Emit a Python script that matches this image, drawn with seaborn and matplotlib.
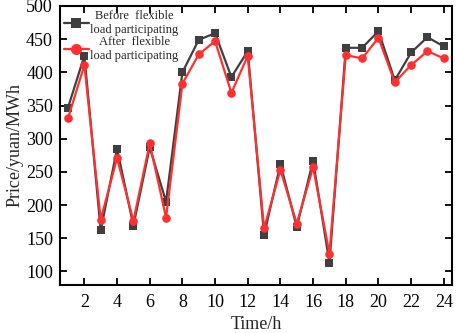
import matplotlib
matplotlib.use("Agg")
import matplotlib.pyplot as plt
import pandas as pd
import seaborn as sns

HOURS = list(range(1, 25))
PRICE_BEFORE = [347, 425, 162, 285, 169, 287, 205, 400, 449, 459, 393, 432,
                155, 262, 167, 267, 113, 437, 437, 462, 388, 430, 453, 439]
PRICE_AFTER = [331, 411, 178, 271, 176, 293, 181, 383, 427, 447, 369, 425,
               165, 253, 172, 257, 127, 426, 421, 452, 385, 411, 432, 421]
LABEL_BEFORE = "Before  flexible\nload participating"
LABEL_AFTER = "After  flexible\nload participating"

COLOR_BEFORE = "#3f3f3f"
COLOR_AFTER = "#ff3030"

sns.set_theme(style="ticks")
plt.rcParams["font.family"] = ["Liberation Serif", "DejaVu Serif"]

data = pd.concat([
    pd.DataFrame({"hour": HOURS, "price": PRICE_BEFORE, "case": LABEL_BEFORE}),
    pd.DataFrame({"hour": HOURS, "price": PRICE_AFTER, "case": LABEL_AFTER}),
])

fig, ax = plt.subplots(figsize=(4.57, 3.33), dpi=100)
sns.lineplot(
    data=data, x="hour", y="price", hue="case", style="case",
    palette={LABEL_BEFORE: COLOR_BEFORE, LABEL_AFTER: COLOR_AFTER},
    markers={LABEL_BEFORE: "s", LABEL_AFTER: "o"},
    dashes=False, linewidth=1.6, ax=ax,
)
for line in ax.lines:
    line.set_markeredgewidth(0)
    line.set_markersize(5.2 if line.get_marker() == "s" else 6.2)

ax.set_xlim(0.5, 24.5)
ax.set_ylim(80, 500)
ax.set_xticks(range(2, 25, 2))
ax.set_yticks(range(100, 501, 50))
ax.tick_params(direction="in", top=True, right=True, labeltop=False,
               labelright=False, length=5, width=1.3, labelsize=13,
               colors="black", pad=5)
ax.tick_params(axis="x", pad=7)
for spine in ax.spines.values():
    spine.set_linewidth(1.5)
    spine.set_color("black")

ax.set_xlabel("Time/h", fontsize=13, labelpad=3)
ax.set_ylabel("Price/yuan/MWh", fontsize=13, labelpad=2)

legend = ax.legend(loc="upper left", frameon=False, fontsize=9,
                   handlelength=2.0, handletextpad=0.15, borderaxespad=0.1,
                   borderpad=0.2, labelspacing=0.05)
for text in legend.get_texts():
    text.set_multialignment("center")
for handle in legend.legend_handles:
    handle.set_markeredgewidth(0)
    handle.set_markersize(7 if handle.get_marker() == "s" else 8)

plt.subplots_adjust(left=0.131, right=0.989, top=0.982, bottom=0.145)
plt.savefig("out.png", dpi=100)
plt.close(fig)
